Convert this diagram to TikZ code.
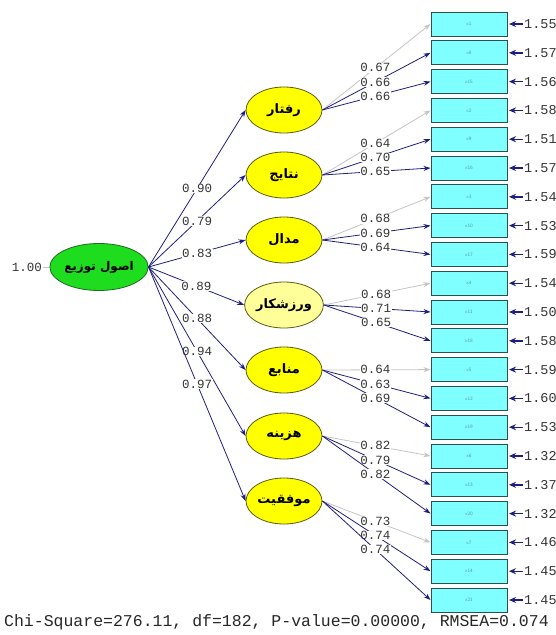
\documentclass[tikz,border=0pt]{standalone}
\usepackage{fontspec}
\setmonofont{Liberation Mono}
\newfontfamily\fa[Script=Arabic]{DejaVu Sans}
\TeXXeTstate=1
\usetikzlibrary{shapes.geometric,arrows.meta}
\definecolor{navy}{HTML}{1E1E7C}
\definecolor{fixgray}{HTML}{C4C4C4}
\definecolor{boxfill}{HTML}{7FFFFF}
\definecolor{boxline}{HTML}{2A5050}
\definecolor{latfill}{HTML}{FFFF00}
\definecolor{latfillb}{HTML}{FFFF9A}
\definecolor{latline}{HTML}{5A5A10}
\definecolor{mainfill}{HTML}{1EDC1E}
\definecolor{mainline}{HTML}{1E6A1E}
\definecolor{tinytext}{HTML}{5A9A9A}
\tikzset{
  obs/.style={draw=boxline, line width=1pt, fill=boxfill, minimum width=76pt, minimum height=24pt, inner sep=0pt, text=tinytext, font=\sffamily\fontsize{5}{5}\selectfont},
  lat/.style={ellipse, draw=latline, line width=0.8pt, fill=latfill, minimum width=76pt, minimum height=46pt, inner sep=0pt, font=\fa\bfseries\fontsize{13}{13}\selectfont},
  mainlat/.style={ellipse, draw=mainline, line width=0.8pt, fill=mainfill, minimum width=76pt, minimum height=47pt, inner sep=0pt, font=\fa\bfseries\fontsize{12}{12}\selectfont},
  num/.style={font=\ttfamily\fontsize{12.5}{12.5}\selectfont, text=black!80, inner sep=0.5pt},
  lbl/.style={num, fill=white},
  errnum/.style={font=\ttfamily\fontsize{13.5}{13.5}\selectfont, text=black!80, inner sep=0pt, anchor=west},
  path/.style={draw=navy, line width=0.8pt, -{Stealth[length=7pt,width=5pt]}},
  fixed/.style={draw=fixgray, line width=0.8pt, -{Stealth[length=7pt,width=5pt]}},
  errarr/.style={draw=navy, line width=1.4pt, -{Stealth[length=7pt,width=6pt]}},
  fit/.style={font=\ttfamily\fontsize{16.5}{16.5}\selectfont, text=black!85, inner sep=0pt}
}
\begin{document}
\begin{tikzpicture}[x=1pt,y=-1pt]
\useasboundingbox (0,0) rectangle (556,635);

% observed boxes and error variances
\foreach \i/\lab/\e in {0/x1/1.55, 1/x8/1.57, 2/x15/1.56, 3/x2/1.58, 4/x9/1.51, 5/x16/1.57, 6/x3/1.54, 7/x10/1.53, 8/x17/1.59, 9/x4/1.54, 10/x11/1.50, 11/x18/1.58, 12/x5/1.59, 13/x12/1.60, 14/x19/1.53, 15/x6/1.32, 16/x13/1.37, 17/x20/1.32, 18/x7/1.46, 19/x14/1.45, 20/x21/1.45} {
  \node[obs] (b\i) at (469, {24+28.8*\i}) {\lab};
  \node[errnum] (e\i) at (524, {24+28.8*\i}) {\e};
  \draw[errarr] ([xshift=-1pt]e\i.west) -- ([xshift=1.5pt]b\i.east);
}

% latent variables
\node[lat] (l0) at (284,110) {\beginR رفتار\endR};
\node[lat] (l1) at (284,175) {\beginR نتایج\endR};
\node[lat] (l2) at (284,240) {\beginR مدال\endR};
\node[lat, fill=latfillb] (l3) at (284,305) {\beginR ورزشکار\endR};
\node[lat] (l4) at (284,370) {\beginR منابع\endR};
\node[lat] (l5) at (284,436) {\beginR هزینه\endR};
\node[lat] (l6) at (284,501) {\beginR موفقیت\endR};

% main latent
\node[mainlat] (m) at (99,267) {\beginR اصول توزیع\endR};
\node[num] (mv) at (27,267) {1.00};
\draw[fixgray, line width=0.8pt] (mv.east) -- (m.west);

% structural paths
\foreach \j/\v in {0/0.90, 1/0.79, 2/0.83, 3/0.89, 4/0.88, 5/0.94, 6/0.97} {
  \draw[path] (m.east) -- node[lbl, pos=0.5] {\v} (l\j.west);
}

% loadings
\foreach \j/\a/\b/\c in {0/0.67/0.66/0.66, 1/0.64/0.70/0.65, 2/0.68/0.69/0.64, 3/0.68/0.71/0.65, 4/0.64/0.63/0.69, 5/0.82/0.79/0.82, 6/0.73/0.74/0.74} {
  \pgfmathtruncatemacro{\ka}{3*\j}
  \pgfmathtruncatemacro{\kb}{3*\j+1}
  \pgfmathtruncatemacro{\kc}{3*\j+2}
  \draw[fixed] (l\j.east) -- node[lbl, pos=0.49] {\a} (b\ka.west);
  \draw[path] (l\j.east) -- node[lbl, pos=0.49] {\b} (b\kb.west);
  \draw[path] (l\j.east) -- node[lbl, pos=0.49] {\c} (b\kc.west);
}

% fit statistics
\node[fit, anchor=west] (fitline) at (4,622) {Chi-Square=276.11, df=182, P-value=0.00000, RMSEA=0.074};
\end{tikzpicture}
\end{document}
